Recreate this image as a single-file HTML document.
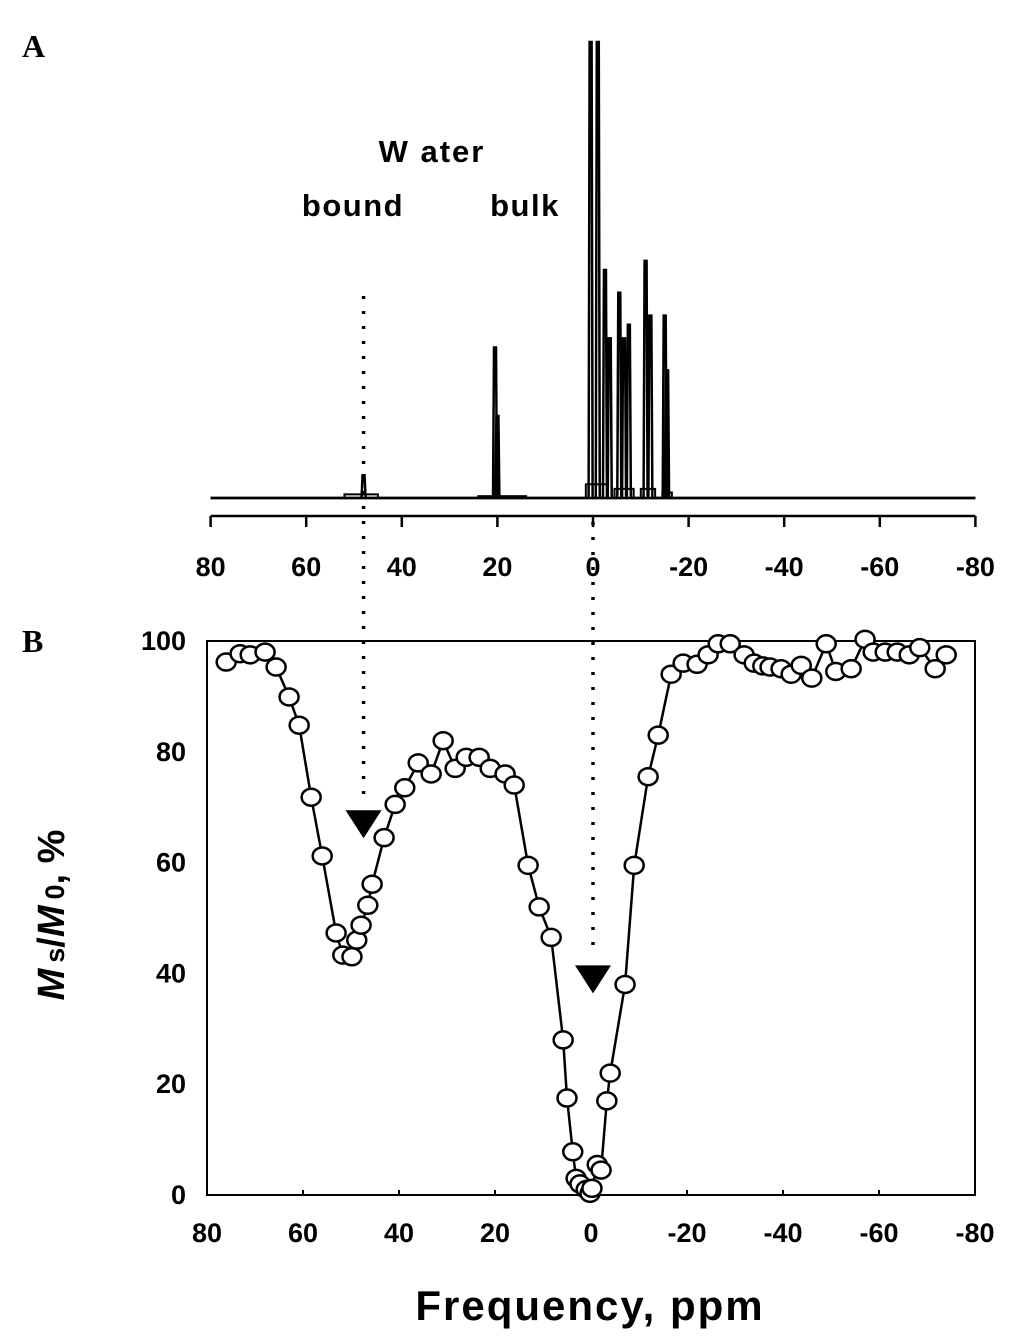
<!DOCTYPE html>
<html><head><meta charset="utf-8">
<style>
html,body{margin:0;padding:0;background:#fff;}
svg{display:block;font-family:"Liberation Sans",Arial,sans-serif;}
</style></head>
<body>
<svg id="fig" width="1033" height="1344" viewBox="0 0 1033 1344">
  <text x="22" y="57" font-family="Liberation Serif,serif" font-weight="bold" font-size="32">A</text>
  <text x="22" y="652" font-family="Liberation Serif,serif" font-weight="bold" font-size="32">B</text>
  <text x="432" y="162" text-anchor="middle" font-weight="bold" font-size="31" letter-spacing="2">W ater</text>
  <text x="353" y="216" text-anchor="middle" font-weight="bold" font-size="31" letter-spacing="1.5">bound</text>
  <text x="525" y="216" text-anchor="middle" font-weight="bold" font-size="31" letter-spacing="1.5">bulk</text>
  <g id="gA"></g>
  <g id="gB"></g>
  <text x="590" y="1320" text-anchor="middle" font-weight="bold" font-size="42" letter-spacing="2">Frequency, ppm</text>
  <text transform="translate(64,915) rotate(-90)" text-anchor="middle" font-weight="bold" font-size="38"><tspan font-style="italic">M</tspan><tspan font-size="27" dx="6">s</tspan><tspan>/</tspan><tspan font-style="italic">M</tspan><tspan font-size="27" dx="6">0</tspan><tspan>, %</tspan></text>
</svg>
<script>
// Panel A spectrum peaks (ppm, relative height 0..1 where 1 = top of panel)
const peakPpm = [48, 20.5, 20, 0.5, -1, -2.5, -3.5, -5.5, -6.5, -7.5, -11, -12, -15, -15.5];
const peakHeight = [0.05, 0.33, 0.18, 1.1, 1.1, 0.5, 0.35, 0.45, 0.35, 0.38, 0.52, 0.40, 0.40, 0.28];
const tickA = [80, 60, 40, 20, 0, -20, -40, -60, -80];
// Panel B data
const freq = [76.0,73.1,71.0,67.9,65.6,62.9,60.8,58.3,56.0,53.1,51.7,49.8,48.8,47.9,46.5,45.6,43.1,40.8,38.8,36.0,33.3,30.8,28.3,26.0,23.3,21.0,17.9,16.0,13.1,10.8,8.3,5.8,5.0,3.8,3.1,2.3,1.0,0.2,-0.2,-1.3,-2.1,-3.3,-4.0,-7.1,-9.0,-11.9,-14.0,-16.7,-19.2,-22.1,-24.4,-26.5,-29.0,-31.9,-34.0,-35.8,-37.3,-39.6,-41.7,-43.8,-46.0,-49.0,-51.0,-54.2,-57.1,-58.8,-61.3,-63.8,-66.3,-68.5,-71.7,-74.0];
const msm0 = [96.2,97.7,97.5,98.0,95.3,89.9,84.8,71.8,61.2,47.3,43.3,43.0,46.0,48.7,52.3,56.1,64.5,70.5,73.5,78,76,82,77,79,79,77,76,74,59.5,52,46.5,28,17.5,7.8,3,2,1,0.3,1.2,5.5,4.5,17,22,38,59.5,75.5,83,94,96,95.8,97.5,99.5,99.5,97.5,96,95.5,95.3,95,94,95.6,93.3,99.5,94.5,95,100.3,98,98,98,97.5,98.8,95,97.5];
const tickB = [80, 60, 40, 20, 0, -20, -40, -60, -80];
const yTicks = [0, 20, 40, 60, 80, 100];
const arrowPpm = [48, 0];
const arrowVal = [68, 40];

const NS = "http://www.w3.org/2000/svg";
function mk(parent, tag, attrs){ const e=document.createElementNS(NS,tag); for(const k in attrs) e.setAttribute(k,attrs[k]); parent.appendChild(e); return e; }
const gA=document.getElementById('gA'), gB=document.getElementById('gB');

const xA = p => 593 - p*4.78;
const baseA = 498, topA = 42;
const yA = h => baseA - h*(baseA-topA);
let d = `M${xA(80)},${baseA}`;
const pts = peakPpm.map((p,i)=>({p,h:peakHeight[i]})).sort((a,b)=>b.p-a.p);
for(const k of pts){
  const x=xA(k.p);
  d += ` L${x-2},${baseA} L${x-1},${Math.max(topA,yA(k.h))} L${x+1},${Math.max(topA,yA(k.h))} L${x+2},${baseA}`;
}
d += ` L${xA(-80)},${baseA}`;
let line = mk(gA,'path',{d:`M${xA(80)},${baseA} L${xA(-80)},${baseA}`,stroke:'#000','stroke-width':2.5,fill:'none'});


let sp = mk(gA,'path',{d,stroke:'#000','stroke-width':2.5,fill:'none','stroke-linejoin':'miter'});


[[52,45,0.008],[24,14,0.004],[1.5,-3,0.03],[-4.5,-8.5,0.02],[-10,-13,0.02],[-14.5,-16.5,0.012]].forEach(r=>{
  const q=mk(gA,'rect',{x:xA(r[0]),y:yA(r[2]),width:xA(r[1])-xA(r[0]),height:baseA-yA(r[2]),fill:'none',stroke:'#000','stroke-width':2});
  
  
});
let ax = mk(gA,'line',{x1:xA(80),x2:xA(-80),y1:516,y2:516,stroke:'#000','stroke-width':2.5});


tickA.forEach(t=>{
  const l=mk(gA,'line',{x1:xA(t),x2:xA(t),y1:516,y2:527,stroke:'#000','stroke-width':2.5});
  
  
  const tx=mk(gA,'text',{x:xA(t),y:576,'text-anchor':'middle','font-weight':'bold','font-size':27});
  tx.textContent=t;
  
  
});

const x0=207,x1=975,y0=641,y1=1195;
const xB = p => 591 - p*4.8;
const yB = v => y1 - v*(y1-y0)/100;
const dl1=mk(gB,'line',{x1:xA(48),x2:xA(48),y1:296,y2:800,stroke:'#000','stroke-width':3.5,'stroke-dasharray':'3 12'});


const dl2=mk(gB,'line',{x1:xA(0),x2:xA(0),y1:522,y2:955,stroke:'#000','stroke-width':3.5,'stroke-dasharray':'3 12'});


const box=mk(gB,'rect',{x:x0,y:y0,width:x1-x0,height:y1-y0,fill:'none',stroke:'#000','stroke-width':2});


tickB.forEach(t=>{
  const l=mk(gB,'line',{x1:xB(t),x2:xB(t),y1:y1,y2:y1-5,stroke:'#000','stroke-width':2});
  
  
  const tx=mk(gB,'text',{x:xB(t),y:1242,'text-anchor':'middle','font-weight':'bold','font-size':27});
  tx.textContent=t;
  
  
});
yTicks.forEach(v=>{
  const tx=mk(gB,'text',{x:186,y:yB(v)+9,'text-anchor':'end','font-weight':'bold','font-size':27});
  tx.textContent=v;
  
  
});
const pl=mk(gB,'polyline',{points:freq.map((f,i)=>xB(f)+','+yB(msm0[i])).join(' '),fill:'none',stroke:'#000','stroke-width':2.5});


freq.forEach((f,i)=>{
  const c=mk(gB,'ellipse',{cx:xB(f),cy:yB(msm0[i]),rx:9.5,ry:8.5,fill:'#fff',stroke:'#000','stroke-width':2.5});
  
  
});
arrowPpm.forEach((p,i)=>{
  const x=xA(p), y=yB(arrowVal[i]);
  const t=mk(gB,'polygon',{points:`${x-18},${y-8} ${x+18},${y-8} ${x},${y+20}`,fill:'#000'});
  
  
});
</script>
</body></html>
